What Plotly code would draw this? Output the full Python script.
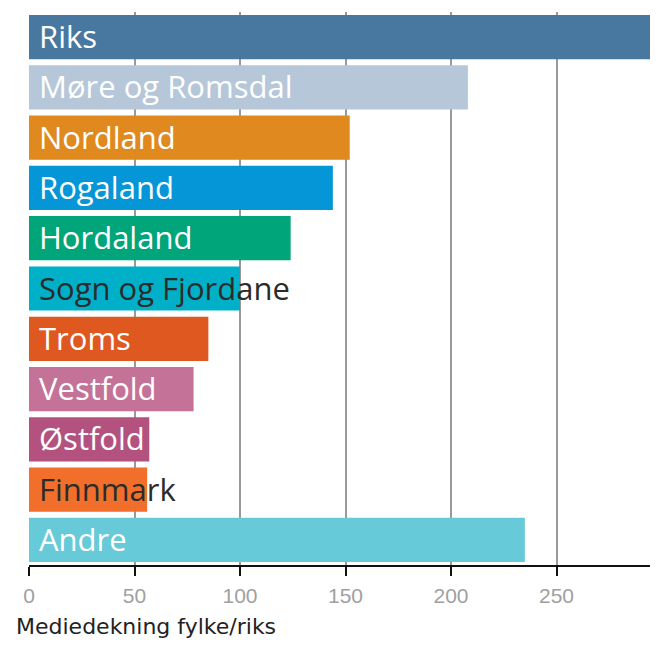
import plotly.graph_objects as go

# Mediedekning per fylke relativt til riks
regions = ["Riks", "Møre og Romsdal", "Nordland", "Rogaland", "Hordaland",
           "Sogn og Fjordane", "Troms", "Vestfold", "Østfold", "Finnmark", "Andre"]
coverage = [300, 208, 152, 144, 124, 100, 85, 78, 57, 56, 235]

bar_colors = ["#48789f", "#b5c7d8", "#df891e", "#0596d8", "#00a579",
              "#00b0c8", "#df581f", "#c47298", "#b3527f", "#f16f2a", "#66cad9"]
label_colors = ["white", "white", "white", "white", "white",
                "#2b2b2b", "white", "white", "white", "#2b2b2b", "white"]

tick_vals = [0, 50, 100, 150, 200, 250]

fig = go.Figure()
fig.add_trace(go.Bar(
    x=coverage, y=regions, orientation="h",
    marker=dict(color=bar_colors, line=dict(width=0)),
    hoverinfo="x+y",
))

for name, col in zip(regions, label_colors):
    fig.add_annotation(x=0, y=name, xref="x", yref="y", text=name,
                       showarrow=False, xanchor="left", xshift=8, yshift=1,
                       font=dict(family="Open Sans, sans-serif", size=31, color=col))

fig.add_annotation(x=0, y=0, xref="paper", yref="paper", text="Mediedekning fylke/riks",
                   showarrow=False, xanchor="left", yanchor="middle", xshift=-15, yshift=-61,
                   font=dict(family="DejaVu Sans, sans-serif", size=22, color="#222"))

# the page body adds 8px around the plot, so the figure is kept 16px smaller
fig.update_layout(
    width=642, height=630,
    margin=dict(l=21, r=0, t=4, b=73, autoexpand=False),
    plot_bgcolor="white", paper_bgcolor="white",
    bargap=0.12, showlegend=False,
    xaxis=dict(range=[0, 294.3], tickvals=tick_vals, showgrid=True,
               gridcolor="#999", gridwidth=2, zeroline=False,
               showline=True, linecolor="#111", linewidth=2,
               ticks="outside", ticklen=9, tickwidth=2, tickcolor="#111",
               ticklabelstandoff=2,
               tickfont=dict(family="Liberation Sans, Arial, sans-serif",
                             size=21, color="#a0a0a0")),
    yaxis=dict(autorange="reversed", showticklabels=False, showgrid=False,
               zeroline=False, showline=False, ticks=""),
)

fig.write_html("out.html")
